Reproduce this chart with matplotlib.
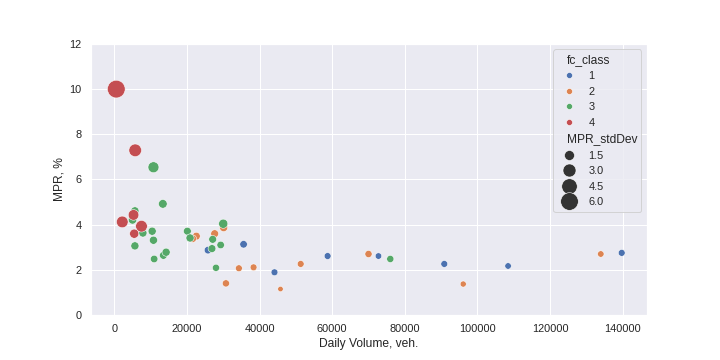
import numpy as np
import pandas as pd
import matplotlib
matplotlib.use('Agg')
import matplotlib.pyplot as plt
from matplotlib.offsetbox import VPacker
import seaborn as sns

sns.set_theme()
plt.rcParams['font.family'] = ['Liberation Sans', 'DejaVu Sans']

# daily volume, MPR (%), MPR std dev -- grouped by functional class
vol_1 = [25800, 35600, 44110, 58740, 72740, 90860, 108430, 139720]
mpr_1 = [2.87, 3.13, 1.89, 2.61, 2.61, 2.26, 2.17, 2.75]
std_1 = [0.6, 0.6, 0.4, 0.4, 0.3, 0.4, 0.3, 0.4]

vol_2 = [22590, 21600, 30110, 27640, 34310, 38350, 30740, 45760, 51330, 70000, 96080, 133960]
mpr_2 = [3.49, 3.38, 3.87, 3.60, 2.07, 2.11, 1.40, 1.15, 2.26, 2.70, 1.37, 2.70]
std_2 = [0.7, 0.6, 0.8, 0.7, 0.4, 0.4, 0.5, 0.05, 0.4, 0.5, 0.2, 0.3]

vol_3 = [10790, 13370, 5680, 5020, 7880, 10430, 10790, 5680, 10980, 13530, 14270,
         20120, 20860, 30000, 27090, 26900, 29290, 28000, 76000]
mpr_3 = [6.54, 4.92, 4.61, 4.21, 3.63, 3.71, 3.31, 3.06, 2.48, 2.64, 2.78,
         3.71, 3.41, 4.04, 3.35, 2.94, 3.10, 2.09, 2.48]
std_3 = [1.95, 1.0, 0.8, 0.9, 0.8, 0.8, 0.8, 0.8, 0.6, 0.7, 0.8,
         0.7, 0.8, 1.2, 0.7, 0.7, 0.6, 0.5, 0.5]

vol_4 = [550, 5760, 2200, 5300, 7490, 5490]
mpr_4 = [10.0, 7.29, 4.12, 4.43, 3.93, 3.60]
std_4 = [6.1, 2.8, 2.3, 1.8, 2.3, 1.2]

classes = ['1', '2', '3', '4']
subtitles = ['fc_class', 'MPR_stdDev']

df = pd.concat([
    pd.DataFrame({'vol': v, 'MPR': m, 'MPR_stdDev': s, 'fc_class': c})
    for v, m, s, c in zip([vol_1, vol_2, vol_3, vol_4],
                          [mpr_1, mpr_2, mpr_3, mpr_4],
                          [std_1, std_2, std_3, std_4], classes)
], ignore_index=True)

vmin, vmax = df['MPR_stdDev'].min(), df['MPR_stdDev'].max()

fig, ax = plt.subplots(figsize=(10, 5), dpi=72)
fig.subplots_adjust(left=0.1264, right=0.8986, bottom=0.125, top=0.878)

sns.scatterplot(data=df, x='vol', y='MPR', hue='fc_class', hue_order=classes,
                size='MPR_stdDev', sizes=(28 + 47 * vmin, 28 + 47 * vmax),
                palette='deep', ax=ax)

ax.set_ylim(0, 12)
ax.set_yticks(np.arange(0, 13, 2))
ax.set_xlabel('Daily Volume, veh.')
ax.set_ylabel('MPR, %')

# make the group headers look like titles (older seaborn style)
leg = ax.get_legend()
for hpack in leg.findobj(VPacker)[0].get_children():
    draw_area, text_area = hpack.get_children()
    for t in text_area.get_children():
        if t.get_text() in subtitles:
            draw_area.set_width(0)
            t.set_size(12)

fig.savefig('out.png', dpi=72)
